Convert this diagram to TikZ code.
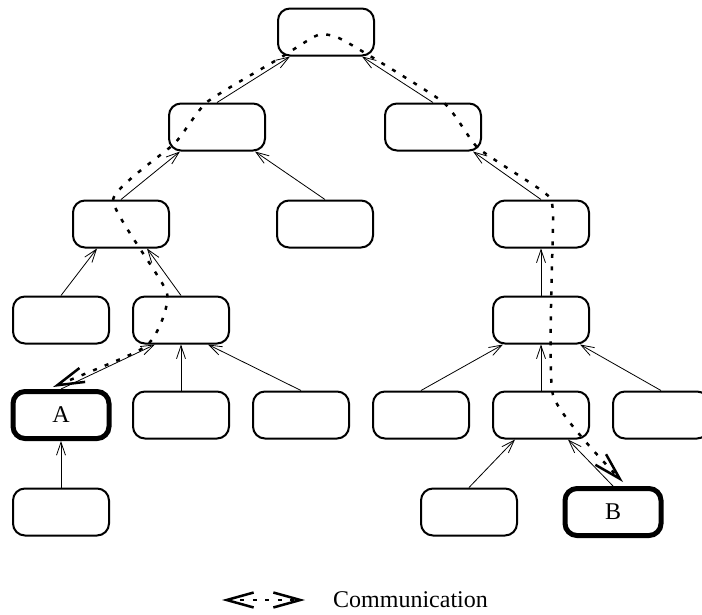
\documentclass[tikz,border=0pt]{standalone}
\usepackage{fontspec}
\setmainfont{Liberation Serif}
\usetikzlibrary{arrows.meta}
\begin{document}
\begin{tikzpicture}[x=1pt,y=-1pt,
  box/.style={draw, line width=2pt, rounded corners=12pt, minimum width=96pt,
    minimum height=47pt, inner sep=0pt, font=\fontsize{24}{28}\selectfont},
  endbox/.style={box, line width=5pt},
  edge/.style={line width=0.8pt, -{Straight Barb[length=13pt,width=9pt]}},
  comm/.style={line width=2.5pt, dash pattern=on 4pt off 8.5pt,
    {Straight Barb[length=27pt,width=15pt]}-{Straight Barb[length=27pt,width=15pt]}},
  lbl/.style={font=\fontsize{24}{28}\selectfont, inner sep=0pt}]
\useasboundingbox (0,0) rectangle (702,614);

% tree nodes
\node[box] (root) at (326,32) {};
\node[box] (l1) at (217,127) {};
\node[box] (r1) at (433,127) {};
\node[box] (ll) at (121,224) {};
\node[box] (lr) at (325,224) {};
\node[box] (rr) at (541,224) {};
\node[box] (a4) at (61,320) {};
\node[box] (b4) at (181,320) {};
\node[box] (c4) at (541,320) {};
\node[endbox] (A) at (61,415) {A};
\node[box] (b5) at (181,415) {};
\node[box] (c5) at (301,415) {};
\node[box] (d5) at (421,415) {};
\node[box] (e5) at (541,415) {};
\node[box] (f5) at (661,415) {};
\node[box] (a6) at (61,512) {};
\node[box] (b6) at (469,512) {};
\node[endbox] (B) at (613,512) {B};

% child -> parent links
\draw[edge] (l1.north) -- ([xshift=-36pt]root.south);
\draw[edge] (r1.north) -- ([xshift=36pt]root.south);
\draw[edge] (ll.north) -- ([xshift=-37pt]l1.south);
\draw[edge] (lr.north) -- ([xshift=38pt]l1.south);
\draw[edge] (rr.north) -- ([xshift=40pt]r1.south);
\draw[edge] (a4.north) -- ([xshift=-24pt]ll.south);
\draw[edge] (b4.north) -- ([xshift=26pt]ll.south);
\draw[edge] (c4.north) -- (rr.south);
\draw[edge] (A.north) -- ([xshift=-26pt]b4.south);
\draw[edge] (b5.north) -- (b4.south);
\draw[edge] (c5.north) -- ([xshift=27pt]b4.south);
\draw[edge] (d5.north) -- ([xshift=-38pt]c4.south);
\draw[edge] (e5.north) -- (c4.south);
\draw[edge] (f5.north) -- ([xshift=39pt]c4.south);
\draw[edge] (a6.north) -- (A.south);
\draw[edge] (b6.north) -- ([xshift=-26pt]e5.south);
\draw[edge] (B.north) -- ([xshift=27pt]e5.south);

% communication route from A up the tree and down to B
\coordinate (cs) at ([xshift=-8pt,yshift=2pt]A.north);
\coordinate (ce) at ([xshift=10pt,yshift=4pt]B.north);
\draw[comm] plot[smooth, tension=0.3] coordinates {
  (cs) (148,344) (167,293) (113,200) (175,143) (207,102) (280,58)
  (318,35) (343,40) (443,102) (478,148) (545,193) (553,215) (553,395) (ce)};

% legend
\coordinate (la) at (222,600);
\coordinate (lb) at (305,600);
\draw[comm] (la) -- (lb);
\node[lbl, anchor=west] (ltext) at (333,600) {Communication};
\end{tikzpicture}
\end{document}
